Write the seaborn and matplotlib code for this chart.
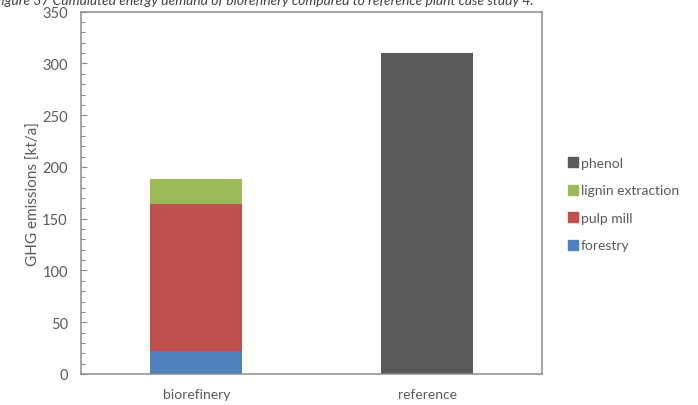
import matplotlib
matplotlib.use("Agg")
import matplotlib.pyplot as plt
from matplotlib.lines import Line2D
from matplotlib.ticker import MultipleLocator
import numpy as np
import pandas as pd
import seaborn as sns

# Emission contributions per case [kt/a]
categories = ["biorefinery", "reference"]
forestry = [22, 0]
pulp_mill = [142, 0]
lignin_extraction = [24, 0]
phenol = [0, 310]

series_names = ["forestry", "pulp mill", "lignin extraction", "phenol"]
series_values = [forestry, pulp_mill, lignin_extraction, phenol]
series_colors = ["#4F81BD", "#C0504D", "#9BBB59", "#595959"]

caption = ("Figure 37 Cumulated energy demand of biorefinery compared to "
           "reference plant case study 4.")

sns.set_theme(style="white")
plt.rcParams["font.family"] = ["Lato", "DejaVu Sans"]

text_grey = "#595959"
frame_grey = "#8c8c8c"

fig = plt.figure(figsize=(6.98, 4.06), dpi=100)
ax = fig.add_axes([0.116, 0.0764, 0.661, 0.8923])

# Stacked bars: draw cumulative totals from the top layer down
cumulative = np.cumsum(np.array(series_values, dtype=float), axis=0)
for i in range(len(series_names) - 1, -1, -1):
    df = pd.DataFrame({"case": categories, "value": cumulative[i]})
    sns.barplot(data=df, x="case", y="value", color=series_colors[i],
                saturation=1, width=0.4, linewidth=0, ax=ax, order=categories)

ax.set_xlim(-0.5, 1.5)
ax.set_ylim(0, 350)
ax.yaxis.set_major_locator(MultipleLocator(50))
ax.yaxis.set_minor_locator(MultipleLocator(10))
ax.tick_params(axis="y", which="major", direction="in", length=4, width=0.8,
               color=frame_grey, labelcolor=text_grey, labelsize=10.5, pad=9.5,
               left=True)
ax.tick_params(axis="y", which="minor", direction="in", length=3, width=0.8,
               color=frame_grey, left=True)
ax.tick_params(axis="x", length=0, labelcolor=text_grey, labelsize=10, pad=10)

ax.set_xlabel("")
ax.set_ylabel("GHG emissions [kt/a]", color=text_grey, fontsize=11, labelpad=1)

for side in ["left", "right", "top", "bottom"]:
    ax.spines[side].set_visible(True)
    ax.spines[side].set_color(frame_grey)
    ax.spines[side].set_linewidth(1.1)

# Legend listed from top layer to bottom layer
handles = [Line2D([0], [0], marker="s", linestyle="none", markersize=6.5,
                  markerfacecolor=c, markeredgecolor=c)
           for c in series_colors[::-1]]
leg = fig.legend(handles, series_names[::-1], loc="upper left",
                 bbox_to_anchor=(0.805, 0.625), frameon=False,
                 fontsize=10, handlelength=0.8, handletextpad=0.15,
                 labelspacing=1.12, borderaxespad=0)
for t in leg.get_texts():
    t.set_color(text_grey)

fig.text(-0.009, 0.988, caption, fontsize=10, style="italic",
         color="#404040", va="baseline", ha="left")

fig.savefig("out.png", dpi=100)
